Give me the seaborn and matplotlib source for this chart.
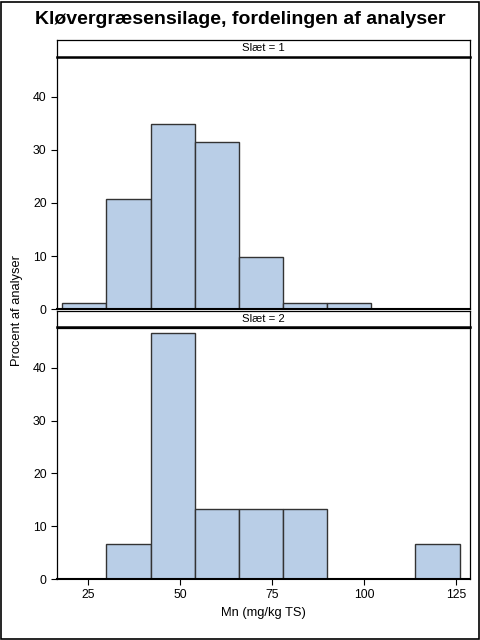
import numpy as np
import pandas as pd
import matplotlib
matplotlib.use("Agg")
import matplotlib.pyplot as plt
from matplotlib.patches import Rectangle
import seaborn as sns

# ── Data (percent of analyses per 12 mg/kg bin) ─────────────────────────────
bin_edges = [18, 30, 42, 54, 66, 78, 90, 102, 114, 126]
bin_mids = [24, 36, 48, 60, 72, 84, 96, 108, 120]
pct_slaet1 = [1.09, 20.65, 34.78, 31.52, 9.78, 1.09, 1.09, 0.0, 0.0]
pct_slaet2 = [0.0, 6.67, 46.67, 13.33, 13.33, 13.33, 0.0, 0.0, 6.67]
panel_labels = ["Slæt = 1", "Slæt = 2"]
x_ticks = [25, 50, 75, 100, 125]
y_ticks = [0, 10, 20, 30, 40]

# ── Style ───────────────────────────────────────────────────────────────────
sns.set_theme(style="white")
plt.rcParams["font.family"] = ["Liberation Sans", "DejaVu Sans"]
plt.rcParams["text.color"] = "black"
plt.rcParams["axes.labelcolor"] = "black"
FILL = "#B9CEE7"
EDGE = "#333333"

fig = plt.figure(figsize=(4.8, 6.4), dpi=100)
fig.patches.append(Rectangle((0.002, 0.002), 0.995, 0.995, transform=fig.transFigure,
                             fill=False, edgecolor="black", linewidth=1.2))

left, width = 0.119, 0.860
ax_specs = [(0.517, 0.394), (0.0953, 0.392)]
strip_specs = [(0.911, 0.0266), (0.489, 0.0252)]

for i, (vals, label) in enumerate(zip([pct_slaet1, pct_slaet2], panel_labels)):
    ax = fig.add_axes([left, ax_specs[i][0], width, ax_specs[i][1]])
    df = pd.DataFrame({"mid": bin_mids, "pct": vals})
    sns.histplot(data=df, x="mid", weights="pct", bins=bin_edges, ax=ax,
                 color=FILL, edgecolor=EDGE, linewidth=1.0, alpha=1.0)
    ax.set_xlim(16.6, 128.8)
    ax.set_ylim(0, 47.5)
    ax.set_yticks(y_ticks)
    ax.set_ylabel("")
    ax.tick_params(axis="both", direction="out", length=4, width=0.8,
                   labelsize=8.8, colors="black", left=True, bottom=(i == 1))
    for s in ax.spines.values():
        s.set_color("black")
        s.set_linewidth(0.9)
    ax.spines["bottom"].set_linewidth(1.5)
    if i == 1:
        ax.set_xticks(x_ticks)
        ax.set_xlabel("Mn (mg/kg TS)", fontsize=9.3)
    else:
        ax.set_xticks([])
        ax.set_xlabel("")

    # strip header
    sx = fig.add_axes([left, strip_specs[i][0], width, strip_specs[i][1]])
    sx.set_xticks([])
    sx.set_yticks([])
    for s in sx.spines.values():
        s.set_color("black")
        s.set_linewidth(0.9)
    sx.spines["bottom"].set_linewidth(1.8)
    sx.text(0.5, 0.5, label, ha="center", va="center", fontsize=8.2,
            transform=sx.transAxes)

fig.text(0.5, 0.969, "Kløvergræsensilage, fordelingen af analyser",
         ha="center", va="center", fontsize=14, fontweight="bold")
fig.text(0.035, 0.515, "Procent af analyser", rotation=90,
         ha="center", va="center", fontsize=9.3)

fig.savefig("out.png", dpi=100)
